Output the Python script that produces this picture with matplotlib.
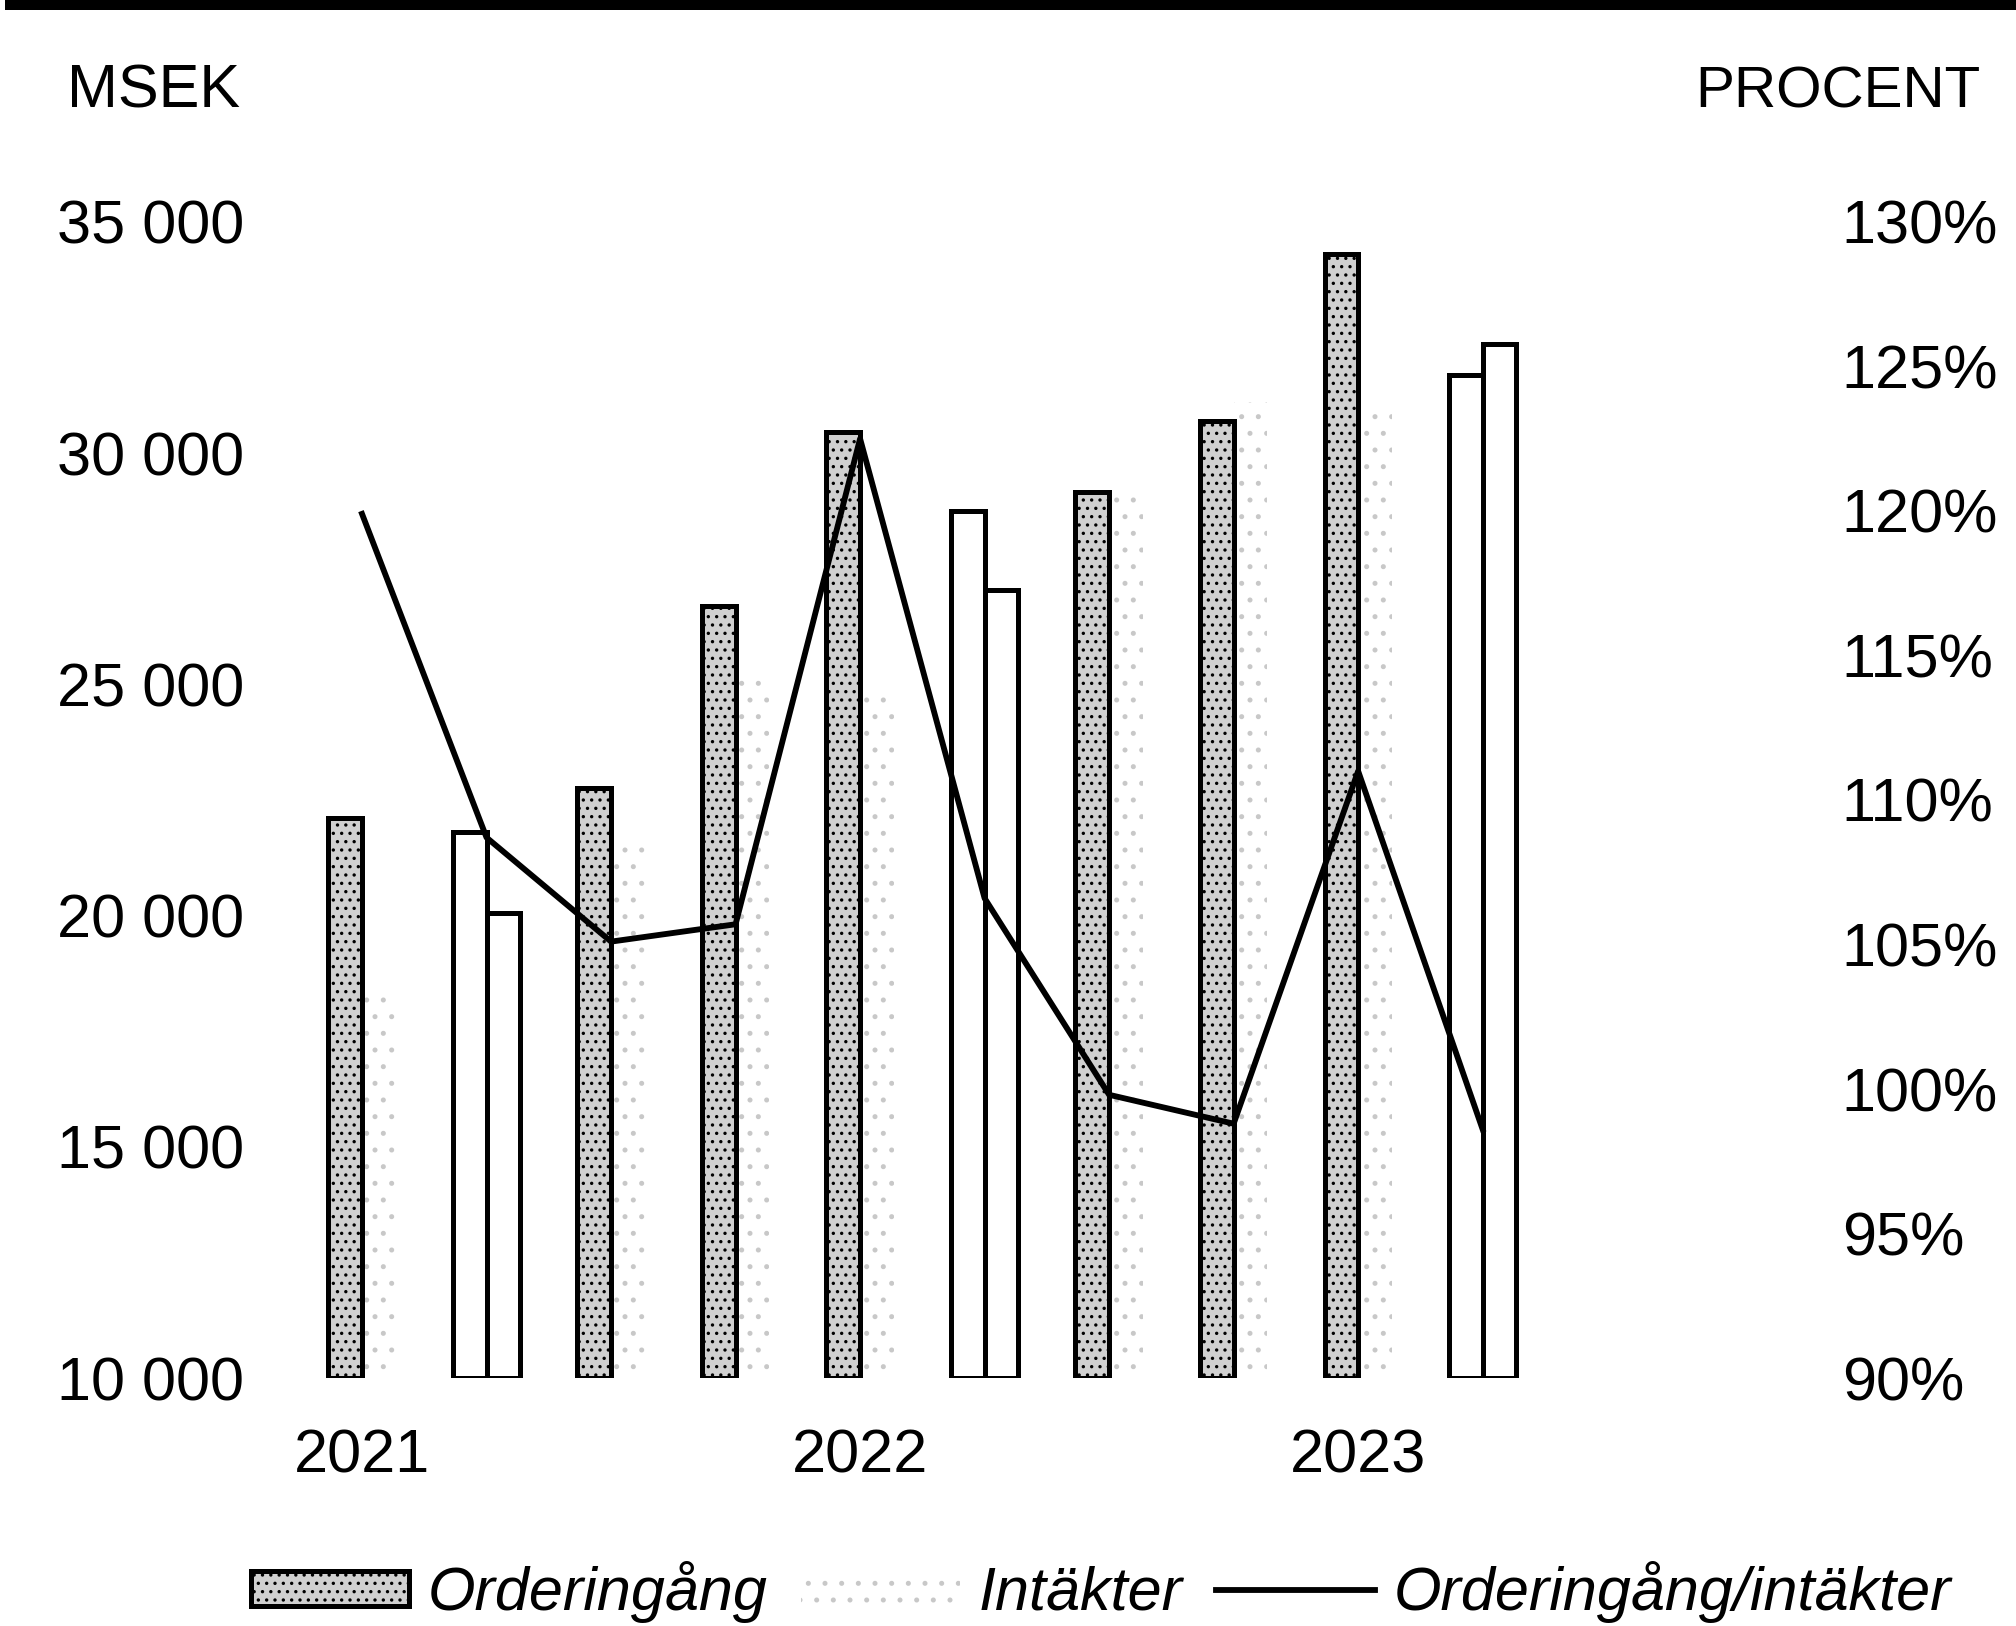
import numpy as np
import matplotlib.pyplot as plt
from matplotlib.patches import Patch
from matplotlib.lines import Line2D

plt.rcParams['font.family'] = ['Liberation Sans', 'DejaVu Sans']
plt.rcParams['hatch.linewidth'] = 0.6

# kvartal 2021 Q1 - 2023 Q2
quarters = ['Q1 2021', 'Q2 2021', 'Q3 2021', 'Q4 2021',
            'Q1 2022', 'Q2 2022', 'Q3 2022', 'Q4 2022',
            'Q1 2023', 'Q2 2023']
orderingang = [22100, 21800, 22750, 26700, 30450, 28750, 29150, 30700, 34300, 31700]
intakter = [18450, 20050, 21650, 25250, 24850, 27050, 29200, 31100, 30950, 32350]
kvot = [119.9, 108.7, 105.1, 105.7, 122.5, 106.6, 99.8, 98.8, 111.0, 98.6]

year_ticks = [0, 4, 8]
year_labels = ['2021', '2022', '2023']
msek_ticks = [10000, 15000, 20000, 25000, 30000, 35000]
procent_ticks = [90, 95, 100, 105, 110, 115, 120, 125, 130]

FS = 22
base = msek_ticks[0]

fig = plt.figure(figsize=(10.08, 8.13), dpi=200)
ax = fig.add_axes([0.128, 0.1525, 0.7773, 0.711])

x = np.arange(len(quarters))
w = 0.27

bars_i = ax.bar(x + w / 2, np.array(intakter) - base, width=w, bottom=base, zorder=2)
bars_o = ax.bar(x - w / 2, np.array(orderingang) - base, width=w, bottom=base, zorder=3)

for i, (bo, bi) in enumerate(zip(bars_o, bars_i)):
    # andra kvartalet syns som ofyllda staplar i förlagan
    if i % 4 == 1:
        for b in (bo, bi):
            b.set_facecolor('white')
            b.set_edgecolor('black')
            b.set_linewidth(1.8)
    else:
        bo.set_facecolor('#d0d0d0')
        bo.set_hatch('....')
        bo.set_edgecolor('black')
        bo.set_linewidth(1.8)
        bi.set_facecolor('none')
        bi.set_hatch('..')
        bi.set_edgecolor('#c8c8c8')
        bi.set_linewidth(0)

ax.set_xlim(-0.835, 11.75)
ax.set_ylim(base, 35000)
ax.set_yticks(msek_ticks)
ax.set_yticklabels([f'{v:,}'.replace(',', ' ') for v in msek_ticks])
ax.set_xticks(year_ticks)
ax.set_xticklabels(year_labels)
ax.tick_params(axis='y', length=0, pad=5, labelsize=FS)
ax.tick_params(axis='x', length=0, pad=18, labelsize=FS)
for s in ax.spines.values():
    s.set_visible(False)

ax2 = ax.twinx()
ax2.plot(x, kvot, color='black', lw=2.1)
ax2.set_ylim(90, 130)
ax2.set_yticks(procent_ticks)
ax2.set_yticklabels([f'{p}%' for p in procent_ticks])
ax2.tick_params(axis='y', length=0, pad=6, labelsize=FS)
for s in ax2.spines.values():
    s.set_visible(False)

fig.text(67 / 2016, 1 - 92 / 1626, 'MSEK', ha='left', va='center', fontsize=FS)
fig.text(1980 / 2016, 1 - 92 / 1626, 'PROCENT', ha='right', va='center', fontsize=21)

# tjock kant överst
fig.add_artist(Line2D([0.005, 1.0], [1 - 5 / 1626, 1 - 5 / 1626],
                      transform=fig.transFigure, color='black', lw=3.6))

handles = [
    Patch(facecolor='#d0d0d0', hatch='....', edgecolor='black', linewidth=1.8),
    Patch(facecolor='none', hatch='..', edgecolor='#c8c8c8', linewidth=0),
    Line2D([], [], color='black', lw=2.1),
]
labels = ['Orderingång', 'Intäkter', 'Orderingång/intäkter']
fig.legend(handles, labels, loc='center', bbox_to_anchor=(0.546, 0.021), ncol=3,
           frameon=False, prop={'style': 'italic', 'size': FS},
           handlelength=2.6, handleheight=0.5, handletextpad=0.3, columnspacing=0.55)

fig.savefig('out.png', dpi=200)
